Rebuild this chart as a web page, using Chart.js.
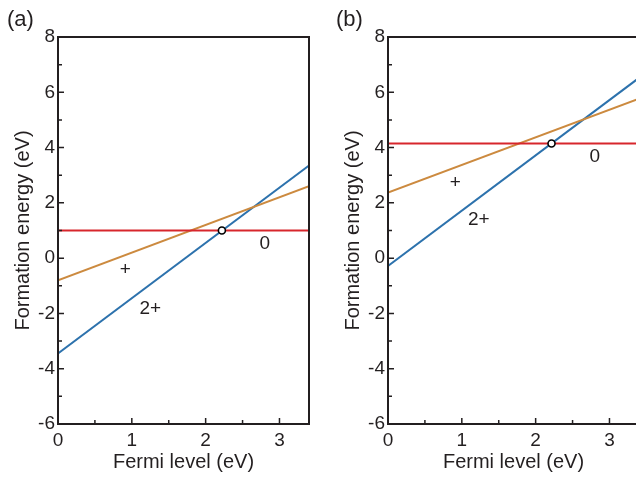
<!DOCTYPE html>
<html>
<head>
<meta charset="utf-8">
<title>Formation energy vs Fermi level</title>
<script src="https://cdn.jsdelivr.net/npm/chart.js@4/dist/chart.umd.min.js"></script>
<style>
    html, body { margin: 0; padding: 0; background: #fff; }
    body { width: 636px; height: 479px; overflow: hidden; position: relative; }
    .panel { position: absolute; top: 0; width: 318px; height: 479px; }
    .panel-tag { position: absolute; top: 6px; font: 22px 'Liberation Sans', Arial, sans-serif; color: #231f20; }
</style>
</head>
<body>
<div class="panel" style="left:0"><canvas id="chartA" width="318" height="479"></canvas></div>
<div class="panel" style="left:330px"><canvas id="chartB" width="318" height="479"></canvas></div>
<div class="panel-tag" style="left:7px">(a)</div>
<div class="panel-tag" style="left:336px">(b)</div>

<script>
'use strict';

// ====== DATA ======
const fermiRange = [0, 3.4];

// panel (a)
const aNeutral = [1.0, 1.0];
const aPlus = [-0.8, 2.6];
const aTwoPlus = [-3.45, 3.35];
const aTransition = [2.22, 1.0];
const aLabelX = [2.8, 0.91, 1.25];
const aLabelY = [0.51, -0.43, -1.84];

// panel (b)
const bNeutral = [4.15, 4.15];
const bPlus = [2.37, 5.77];
const bTwoPlus = [-0.28, 6.52];
const bTransition = [2.215, 4.15];
const bLabelX = [2.8, 0.91, 1.23];
const bLabelY = [3.66, 2.72, 1.38];

const chargeLabels = ['0', '+', '2+'];
const xTicks = [0, 1, 2, 3];
const xMinorTicks = [0.5, 1.5, 2.5];
const yTicks = [-6, -4, -2, 0, 2, 4, 6, 8];
const yMinorTicks = [-5, -3, -1, 1, 3, 5, 7];

// ====== STYLE ======
const INK = '#231f20';
const FONT = "'Liberation Sans', Arial, sans-serif";
const COLORS = { neutral: '#d7262c', plus: '#cc8a3f', twoPlus: '#2d72ad' };

// ====== HELPERS ======
function toPoints(ys) {
    return fermiRange.map((x, i) => ({ x, y: ys[i] }));
}

// box, inward ticks and charge labels
const framePlugin = {
    id: 'frame',
    afterDatasetsDraw(chart, args, opts) {
        const { ctx, chartArea: a, scales } = chart;
        const xs = scales.x, ys = scales.y;
        ctx.save();
        ctx.strokeStyle = INK;
        ctx.lineWidth = 1.5;
        ctx.beginPath();
        xTicks.forEach(v => { const p = xs.getPixelForValue(v); ctx.moveTo(p, a.bottom); ctx.lineTo(p, a.bottom - 6); });
        xMinorTicks.forEach(v => { const p = xs.getPixelForValue(v); ctx.moveTo(p, a.bottom); ctx.lineTo(p, a.bottom - 4); });
        yTicks.forEach(v => { const p = ys.getPixelForValue(v); ctx.moveTo(a.left, p); ctx.lineTo(a.left + 6, p); });
        yMinorTicks.forEach(v => { const p = ys.getPixelForValue(v); ctx.moveTo(a.left, p); ctx.lineTo(a.left + 4, p); });
        ctx.stroke();

        ctx.lineWidth = 2;
        ctx.strokeRect(a.left, a.top, a.right - a.left, a.bottom - a.top);

        ctx.fillStyle = INK;
        ctx.font = '19px ' + FONT;
        ctx.textAlign = 'center';
        ctx.textBaseline = 'middle';
        chargeLabels.forEach((t, i) => {
            ctx.fillText(t, xs.getPixelForValue(opts.lx[i]), ys.getPixelForValue(opts.ly[i]));
        });
        ctx.restore();
    }
};

// ====== BUILD PANEL ======
function buildPanel(id, neutral, plus, twoPlus, transition, lx, ly) {
    const ctx = document.getElementById(id).getContext('2d');
    const line = (data, color) => ({
        type: 'line', data: toPoints(data), borderColor: color, borderWidth: 2,
        pointRadius: 0, fill: false, tension: 0
    });

    return new Chart(ctx, {
        type: 'scatter',
        data: {
            datasets: [
                {
                    type: 'scatter', data: [{ x: transition[0], y: transition[1] }],
                    pointRadius: 3.5, borderWidth: 1.6, borderColor: '#000', backgroundColor: '#fff'
                },
                line(neutral, COLORS.neutral),
                line(plus, COLORS.plus),
                line(twoPlus, COLORS.twoPlus)
            ]
        },
        options: {
            responsive: false,
            animation: false,
            events: [],
            layout: { padding: { top: 37, right: 9, left: 0, bottom: 0 } },
            plugins: {
                legend: { display: false },
                tooltip: { enabled: false },
                frame: { lx, ly }
            },
            scales: {
                x: {
                    type: 'linear', min: fermiRange[0], max: fermiRange[1],
                    grid: { display: false, drawTicks: false },
                    border: { display: false },
                    afterBuildTicks: s => { s.ticks = xTicks.map(v => ({ value: v })); },
                    afterFit: s => { s.height = 55; },
                    ticks: { color: INK, font: { family: FONT, size: 19 }, padding: 5, maxRotation: 0 },
                    title: { display: true, text: 'Fermi level (eV)', color: INK, font: { family: FONT, size: 20 }, padding: { top: 0, bottom: 5 } }
                },
                y: {
                    type: 'linear', min: -6, max: 8,
                    grid: { display: false, drawTicks: false },
                    border: { display: false },
                    afterBuildTicks: s => { s.ticks = yTicks.map(v => ({ value: v })); },
                    afterFit: s => { s.width = 58; },
                    ticks: { color: INK, font: { family: FONT, size: 19 }, padding: 3 },
                    title: { display: true, text: 'Formation energy (eV)', color: INK, font: { family: FONT, size: 20 }, padding: { top: 11, bottom: 0 } }
                }
            }
        },
        plugins: [framePlugin]
    });
}

buildPanel('chartA', aNeutral, aPlus, aTwoPlus, aTransition, aLabelX, aLabelY);
buildPanel('chartB', bNeutral, bPlus, bTwoPlus, bTransition, bLabelX, bLabelY);
</script>
</body>
</html>
